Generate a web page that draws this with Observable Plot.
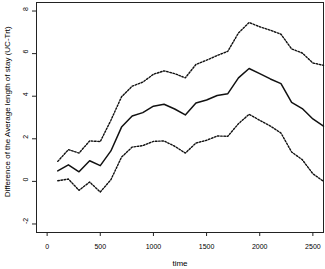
<!DOCTYPE html>
<html><head><meta charset="utf-8">
<script src="https://cdn.jsdelivr.net/npm/d3@7"></script>
<script src="https://cdn.jsdelivr.net/npm/@observablehq/plot@0.6"></script>
<style>
html,body{margin:0;padding:0;background:#fff;}
svg{display:block;}
</style>
</head><body>
<div id="chart"></div>
<script>
const time = [100,200,300,400,500,600,700,800,900,1000,1100,1200,1300,1400,1500,1600,1700,1800,1900,2000,2100,2200,2300,2400,2500,2600];
const meanDiff = [0.49,0.78,0.45,0.97,0.74,1.43,2.55,3.07,3.23,3.53,3.62,3.40,3.12,3.68,3.82,4.03,4.12,4.86,5.30,5.06,4.81,4.59,3.71,3.42,2.93,2.60];
const upper = [0.94,1.49,1.33,1.90,1.87,2.87,3.97,4.47,4.66,5.03,5.19,5.06,4.86,5.49,5.69,5.91,6.11,6.97,7.46,7.26,7.10,6.91,6.22,6.03,5.56,5.45];
const lower = [0.03,0.11,-0.42,-0.03,-0.50,0.08,1.14,1.61,1.68,1.88,1.90,1.65,1.33,1.80,1.93,2.13,2.12,2.71,3.15,2.87,2.60,2.27,1.38,1.02,0.36,0.00];
const xTicks = [0,500,1000,1500,2000,2500];
const yTicks = [-2,0,2,4,6,8];
const xLabel = "time";
const yLabel = "Difference of the Average length of stay (UC-Trt)";

const rows = time.map((t,i)=>({t, m: meanDiff[i], u: upper[i], l: lower[i]}));
const font = "Liberation Sans, Arial, Helvetica, sans-serif";

const chart = Plot.plot({
  width: 325, height: 269,
  marginLeft: 36, marginRight: 2, marginTop: 2, marginBottom: 37,
  style: {fontFamily: font, fontSize: "7px", color: "black", background: "#fff"},
  x: {domain: [-100, 2600], axis: null},
  y: {domain: [-2.4, 8.4], axis: null},
  marks: [
    Plot.frame({stroke: "#222", strokeWidth: 1}),
    Plot.axisX(xTicks, {tickSize: 4, tickPadding: 8, stroke: "#222", fill: "black", fontSize: 7, tickFormat: d=>String(d), label: null}),
    Plot.axisY(yTicks, {tickSize: 4, stroke: "#222", text: null, label: null}),
    Plot.text(yTicks, {y: d=>d, frameAnchor: "left", dx: -11, rotate: -90, text: d=>String(d), fill: "black", fontSize: 7}),
    Plot.text([yLabel], {y: () => -0.75, frameAnchor: "left", dx: -29, rotate: -90, textAnchor: "start", text: d=>d, fill: "black", fontSize: 8}),
    Plot.text([xLabel], {x: () => 1250, frameAnchor: "bottom", dy: 33.5, text: d=>d, fill: "black", fontSize: 8}),
    Plot.line(rows, {x: "t", y: "u", stroke: "#111", strokeWidth: 1.4, strokeDasharray: "1.6,1.6"}),
    Plot.line(rows, {x: "t", y: "l", stroke: "#111", strokeWidth: 1.4, strokeDasharray: "1.6,1.6"}),
    Plot.line(rows, {x: "t", y: "m", stroke: "#111", strokeWidth: 1.5})
  ]
});
document.getElementById("chart").appendChild(chart);
</script>
</body></html>
